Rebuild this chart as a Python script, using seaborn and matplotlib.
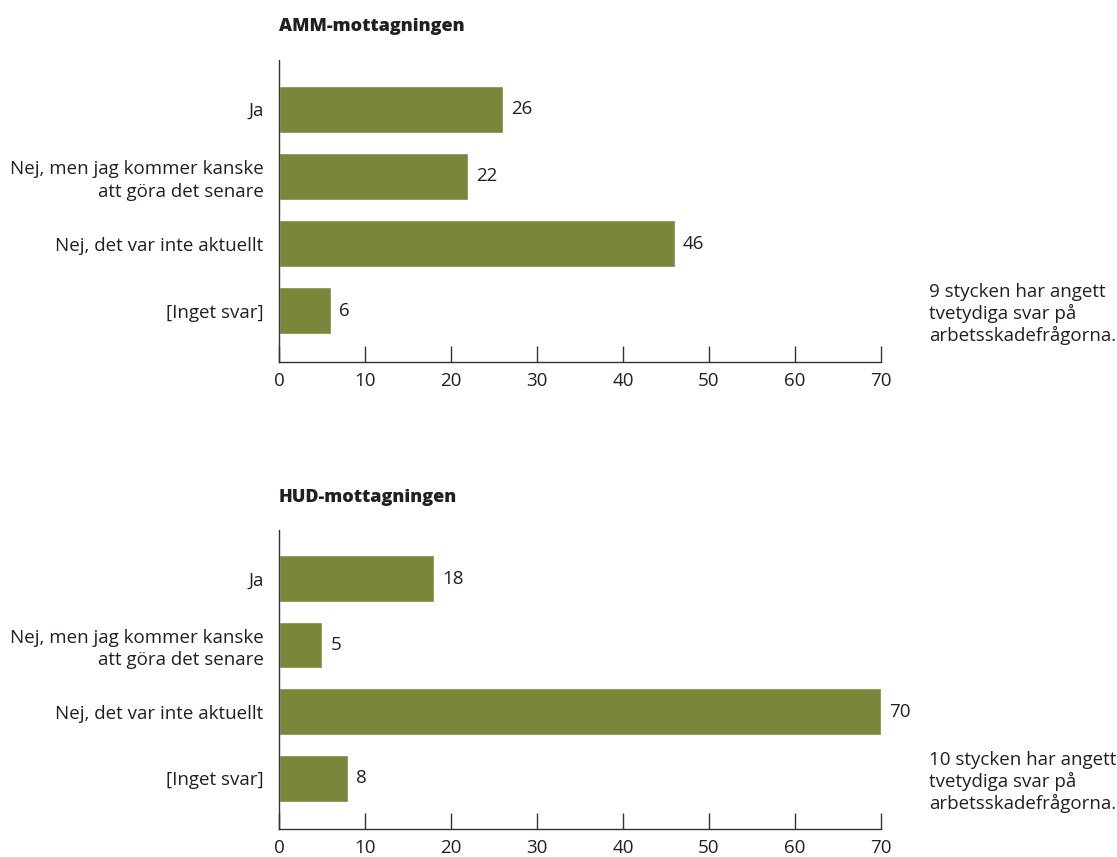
import matplotlib
matplotlib.use("Agg")
import matplotlib.pyplot as plt
import seaborn as sns
import pandas as pd

# Survey answers per clinic
categories = ["Ja", "Nej, men jag kommer kanske\natt göra det senare",
              "Nej, det var inte aktuellt", "[Inget svar]"]
amm_values = [26, 22, 46, 6]
hud_values = [18, 5, 70, 8]
panel_titles = ["AMM-mottagningen", "HUD-mottagningen"]
notes = ["9 stycken har angett\ntvetydiga svar på\narbetsskadefrågorna.",
         "10 stycken har angett\ntvetydiga svar på\narbetsskadefrågorna."]
x_ticks = [0, 10, 20, 30, 40, 50, 60, 70]

sns.set_theme(style="white")
plt.rcParams["font.family"] = ["Open Sans", "DejaVu Sans"]

BAR = "#7a873b"
TXT = "#231f20"
FS = 13.5

fig = plt.figure(figsize=(11.17, 8.57), dpi=100)
ax_top = fig.add_axes([0.2498, 0.5776, 0.5389, 0.3524])
ax_bot = fig.add_axes([0.2498, 0.0327, 0.5389, 0.3489])

for ax, vals, title, note in zip([ax_top, ax_bot], [amm_values, hud_values],
                                 panel_titles, notes):
    df = pd.DataFrame({"svar": categories, "antal": vals})
    sns.barplot(data=df, x="antal", y="svar", orient="h", color=BAR,
                saturation=1, width=0.7, ax=ax)
    ax.set_xlim(0, 70)
    ax.set_ylim(3.76, -0.73)
    ax.set_xticks(x_ticks)
    ax.set_xlabel("")
    ax.set_ylabel("")
    for s in ["top", "right"]:
        ax.spines[s].set_visible(False)
    for s in ["left", "bottom"]:
        ax.spines[s].set_color("#333333")
        ax.spines[s].set_linewidth(1.0)
    ax.tick_params(axis="x", bottom=True, direction="in", length=11.5,
                   width=1.0, color="#333333", labelsize=FS, labelcolor=TXT,
                   pad=7.5)
    ax.tick_params(axis="y", left=False, length=0, labelsize=FS,
                   labelcolor=TXT, pad=11)
    for lbl in ax.get_yticklabels():
        lbl.set_horizontalalignment("right")
        lbl.set_multialignment("right")
        lbl.set_linespacing(1.3)
    for container in ax.containers:
        ax.bar_label(container, padding=6, fontsize=FS, color=TXT)
    ax.text(0, 1.11, title, transform=ax.transAxes, fontsize=FS - 0.5,
            fontweight="heavy", color=TXT, ha="left", va="center")
    ax.text(1.08, 0.262, note, transform=ax.transAxes, fontsize=FS,
            color=TXT, ha="left", va="top", linespacing=1.2)

fig.savefig("out.png", dpi=100)
